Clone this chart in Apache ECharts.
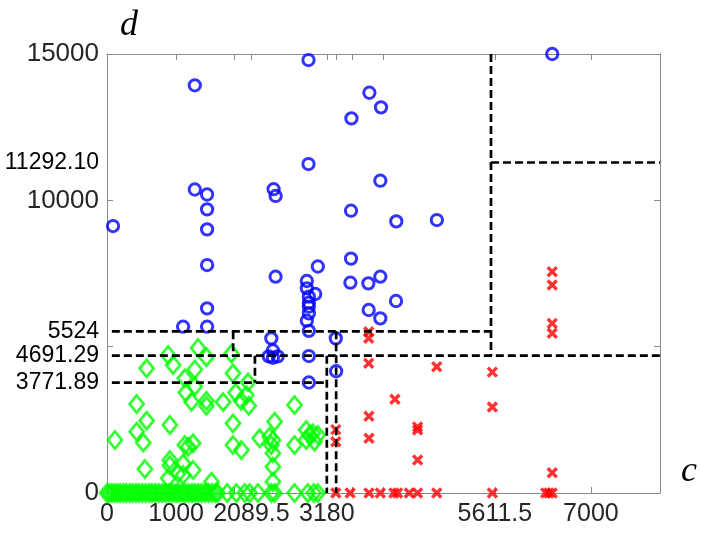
<!DOCTYPE html>
<html><head><meta charset="utf-8">
<script src="https://cdn.jsdelivr.net/npm/echarts@6/dist/echarts.min.js"></script>
<style>html,body{margin:0;padding:0;background:#fff}#chart{width:702px;height:534px}</style>
</head><body><div id="chart"></div>
<script>
// ---- data ----
const blueC = [87,1270,2915,2915,1270,1448,1448,1448,2410,2440,3536,3796,3964,3954,3530,4185,4772,3530,1448,3050,2439,2891,2891,3012,2920,2920,2920,2920,2891,2920,3521,3781,3954,4181,3786,3954,1101,1448,1448,2377,2400,2400,2340,2470,2920,2920,3310,3315,6441];
const blueD = [9122,13930,14793,11240,10370,10200,9692,9009,10380,10150,12800,13676,13177,10670,9645,9280,9327,8010,7789,7740,7391,7243,6994,6799,6708,6502,6366,6138,5887,5540,7186,7164,7391,6560,6252,5968,5682,6310,5682,5285,4870,4620,4670,4670,4680,3775,5285,4160,15000];

const redC = [3786,3786,3786,4770,5575,5575,4165,3790,3790,4493,4493,4493,3310,3310,6441,6441,6441,6441,6441,3310,3517,3790,3954,4150,4204,4373,4493,4770,5575,6346,6393,6441];
const redD = [5511,5285,4431,4316,4130,2940,3201,2620,1869,2260,2150,1127,2165,1753,7561,7106,5797,5456,694,0,0,0,0,0,0,0,0,0,0,0,0,0];

const greenC = [573,885,957,1318,1438,1270,1126,1140,1270,1222,1438,1438,1680,429,1800,1823,1860,1940,2040,2016,2050,2713,573,909,429,525,115,1126,1174,1246,548,909,909,1102,1246,1030,1511,885,1102,1823,1823,1944,2208,2425,2352,2377,2400,2400,2400,2713,2882,2930,3050,2882,3002,2400,2977,
  0,30,70,110,150,190,240,280,330,370,420,460,510,560,610,650,700,750,800,850,900,950,1000,1040,1090,1130,1180,1230,1270,1320,1370,1420,1470,1520,1570,1600,1740,1872,1992,2064,2184,2377,2425,2713,2905,2990,3050];
const greenD = [4260,4715,4373,4955,4640,4220,3919,3430,3644,3119,3150,2980,3110,3040,4760,4089,3430,3150,3780,3348,2980,3006,2470,2323,2095,1720,1811,1640,1582,1698,820,1127,950,1013,786,673,386,502,615,2381,1640,1469,1869,2436,1924,1640,1356,899,386,1640,2152,1982,1982,1811,1753,1811,2039,
  0,0,0,0,0,0,0,0,0,0,0,0,0,0,0,0,0,0,0,0,0,0,0,0,0,0,0,0,0,0,0,0,0,0,0,0,0,0,0,0,0,0,0,0,0,0,0];

// dashed partition lines
const cut5524 = [[70,5524],[5555,5524]];
const cut4691 = [[70,4691.29],[8000,4691.29]];
const cut3771 = [[70,3771.89],[3180,3771.89]];
const cut11292 = [[5555,11292.10],[8000,11292.10]];
const vert5555 = [[5555,15000],[5555,4691.29]];
const vert1825 = [[1825,5524],[1825,4691.29]];
const vert2140 = [[2140,4691.29],[2140,3771.89]];
const vert3180 = [[3180,4691.29],[3180,0]];
const vert3315 = [[3315,5524],[3315,0]];

// axes
const xTickValues = [0,1000,1847,2089.5,3180,3320,3550,4000,5611.5,7000,8000];
const xLabelValues = [0,1000,2089.5,3180,5611.5,7000];
const xLabelTexts = ['0','1000','2089.5','3180','5611.5','7000'];
const yTickValues = [0,5000,10000,15000];
const yLabelValues = [0,3771.89,4691.29,5524,10000,11292.10,15000];
const yLabelTexts = ['0','3771.89','4691.29','5524','10000','11292.10','15000'];
const yLabelKinds = ['main','cut','cut','cut','main','cut2','main'];

// ---- chart ----
const zip = (a, b) => a.map((v, i) => [v, b[i]]);
const FONT = 'Liberation Sans, Arial, Helvetica, sans-serif';
const axisGray = '#8a8a8a';

function findIdx(arr, v) { return arr.findIndex(a => Math.abs(a - v) < 1e-6); }

const baseX = {
  type: 'value', min: 0, max: 8000,
  splitLine: { show: false },
  axisLine: { show: true, onZero: false, lineStyle: { color: axisGray, width: 1 } },
  axisTick: { show: true, inside: true, length: 6, customValues: xTickValues, lineStyle: { color: axisGray } }
};
const baseY = {
  type: 'value', min: 0, max: 15000,
  splitLine: { show: false },
  axisLine: { show: true, onZero: false, lineStyle: { color: axisGray, width: 1 } },
  axisTick: { show: true, inside: true, length: 6, customValues: yTickValues, lineStyle: { color: axisGray } }
};

const lineStyle = { color: '#000', width: 2.7, type: [8, 4] };
const cutSeries = [cut5524, cut4691, cut3771, cut11292, vert5555, vert1825, vert2140, vert3180, vert3315].map(seg => ({
  type: 'line', data: seg, symbol: 'none', silent: true, z: 5,
  lineStyle: lineStyle, xAxisIndex: 0, yAxisIndex: 0
}));

const chart = echarts.init(document.getElementById('chart'), null, { renderer: 'canvas' });
chart.setOption({
  animation: false,
  backgroundColor: '#fff',
  grid: { left: 107, right: 42, top: 54, bottom: 41, containLabel: false },
  xAxis: [
    Object.assign({}, baseX, {
      position: 'bottom',
      name: 'c', nameLocation: 'end', nameGap: 21,
      nameTextStyle: { fontFamily: 'Liberation Serif, DejaVu Serif, serif', fontStyle: 'italic', fontSize: 36, color: '#000', align: 'left', verticalAlign: 'bottom', padding: [0, 0, 3, 0] },
      axisLabel: {
        show: true, customValues: xLabelValues, margin: 9, fontSize: 25, color: '#262626', fontFamily: FONT,
        formatter: v => { const i = findIdx(xLabelValues, v); return i >= 0 ? xLabelTexts[i] : ''; }
      }
    }),
    Object.assign({}, baseX, { position: 'top', axisLabel: { show: false } })
  ],
  yAxis: [
    Object.assign({}, baseY, {
      position: 'left',
      name: 'd', nameLocation: 'end', nameGap: 10,
      nameTextStyle: { fontFamily: 'Liberation Serif, DejaVu Serif, serif', fontStyle: 'italic', fontSize: 36, color: '#000', align: 'left', verticalAlign: 'bottom', padding: [0, 0, 0, 13] },
      axisLabel: {
        show: true, customValues: yLabelValues, margin: 8, fontSize: 26, color: '#262626', fontFamily: FONT,
        formatter: v => { const i = findIdx(yLabelValues, v); return i >= 0 ? '{' + yLabelKinds[i] + '|' + yLabelTexts[i] + '}' : ''; },
        rich: {
          main: { fontSize: 26, color: '#262626', fontFamily: FONT },
          cut: { fontSize: 23, color: '#000', fontFamily: FONT },
          cut2: { fontSize: 23, color: '#000', fontFamily: FONT }
        }
      }
    }),
    Object.assign({}, baseY, { position: 'right', axisLabel: { show: false } })
  ],
  series: [
    {
      type: 'scatter', name: 'class 3', data: zip(greenC, greenD), symbol: 'diamond', symbolSize: [14, 17],
      itemStyle: { color: 'rgba(0,0,0,0)', borderColor: '#00ff00', borderWidth: 2.8 }, z: 2
    },
    {
      type: 'scatter', name: 'class 1', data: zip(blueC, blueD), symbol: 'circle', symbolSize: 11.3,
      itemStyle: { color: 'rgba(0,0,0,0)', borderColor: '#0000ff', borderWidth: 3 }, z: 3
    },
    {
      type: 'scatter', name: 'class 2', data: zip(redC, redD), symbol: 'path://M0,0L10,10M0,10L10,0', symbolSize: 9,
      itemStyle: { color: 'rgba(0,0,0,0)', borderColor: '#ff0000', borderWidth: 3.4 }, z: 4
    }
  ].concat(cutSeries)
});
</script>
</body></html>
